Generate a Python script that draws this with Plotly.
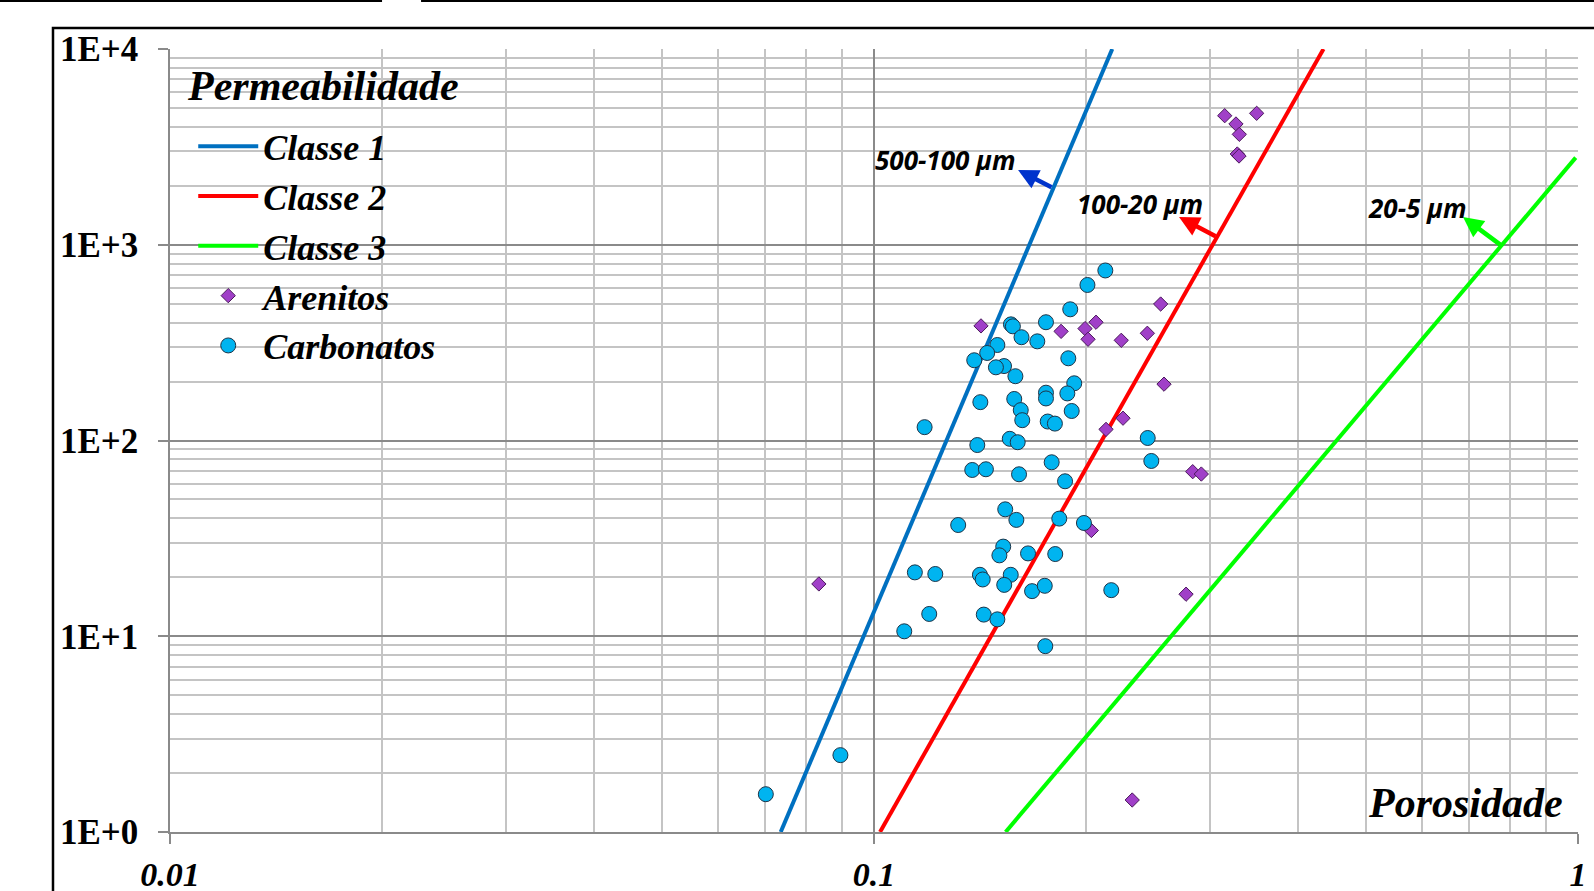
import numpy as np
import plotly.graph_objects as go

# ---------------- data ----------------
classe1_phi = [0.0737, 0.218]
classe1_k = [1, 10000]
classe2_phi = [0.102, 0.435]
classe2_k = [1, 10000]
classe3_phi = [0.1538, 0.9925]
classe3_k = [1, 2786]

arenitos_phi = [0.1419, 0.1844, 0.1994, 0.2067, 0.2014, 0.2245, 0.2445, 0.2554, 0.2582,
                0.2258, 0.2136, 0.2836, 0.2917, 0.2036, 0.2775, 0.0835, 0.2327,
                0.3149, 0.3267, 0.3303, 0.3281, 0.3300, 0.3496]
arenitos_k = [385, 361, 373, 402, 329, 325, 353, 498, 194,
              130, 114, 69.3, 67.4, 34.7, 16.4, 18.5, 1.457,
              4563, 4140, 3665, 2908, 2840, 4693]

carbonatos_phi = [0.2131, 0.201, 0.190, 0.1565, 0.1575, 0.1755, 0.162, 0.1706, 0.1497, 0.1448,
                  0.1388, 0.1888, 0.153, 0.149, 0.1588, 0.1925, 0.1755, 0.1755, 0.1882, 0.1416,
                  0.1582, 0.1616, 0.1624, 0.1909, 0.1765, 0.1807, 0.118, 0.1559, 0.160, 0.1402,
                  0.2448, 0.2477, 0.1788, 0.1379, 0.1442, 0.1607, 0.1868, 0.1536, 0.1593, 0.1317,
                  0.1833, 0.1987, 0.1526, 0.1507, 0.1655, 0.1809, 0.1143, 0.1222, 0.1414, 0.1427,
                  0.1564, 0.1531, 0.1677, 0.1748, 0.2173, 0.1198, 0.1432, 0.1497, 0.1104, 0.1751,
                  0.0896, 0.0702]
carbonatos_k = [739, 623, 468, 392, 383, 402, 337, 321, 307.5, 280,
                257, 263, 240, 236.5, 213, 196, 175.5, 164, 174, 157,
                163, 143, 127, 141.5, 125, 122, 117, 102, 98, 94.8,
                103, 78.6, 77.4, 70.7, 71.3, 67.2, 61.9, 44.5, 39.3, 37.0,
                39.9, 37.9, 28.7, 25.9, 26.5, 26.3, 21.2, 20.8, 20.6, 19.5,
                20.6, 18.3, 17.0, 18.1, 17.2, 13.0, 12.9, 12.2, 10.6, 8.9,
                2.47, 1.56]

# pore-throat class arrows: (tail on line) -> (head)
arrow_labels = ["500-100 \u03bcm", "100-20 \u03bcm", "20-5 \u03bcm"]
arrow_colors = ["#0033CC", "#FF0000", "#00FF00"]
arrow_tail_phi = [0.1796, 0.3071, 0.780]
arrow_tail_k = [1950, 1095, 985]
arrow_head_phi = [0.1602, 0.2712, 0.6865]
arrow_head_k = [2409, 1386, 1386]
label_phi = [0.1596, 0.2953, 0.698]
label_k = [2710, 1615, 1541]

y_tickvals = [1, 10, 100, 1000, 10000]
y_ticktext = ["1E+0", "1E+1", "1E+2", "1E+3", "1E+4"]
x_tickvals = [0.01, 0.1, 1]
x_ticktext = ["0.01", "0.1", "1"]

SERIF = "Liberation Serif"

fig = go.Figure()
fig.add_trace(go.Scatter(x=classe1_phi, y=classe1_k, mode="lines", name="Classe 1",
                         line=dict(color="#0070C0", width=4)))
fig.add_trace(go.Scatter(x=classe2_phi, y=classe2_k, mode="lines", name="Classe 2",
                         line=dict(color="#FF0000", width=4)))
fig.add_trace(go.Scatter(x=classe3_phi, y=classe3_k, mode="lines", name="Classe 3",
                         line=dict(color="#00FF00", width=4)))
fig.add_trace(go.Scatter(x=arenitos_phi, y=arenitos_k, mode="markers", name="Arenitos",
                         marker=dict(symbol="diamond", size=11, color="#A040C8",
                                     line=dict(color="#4B1A5C", width=1))))
fig.add_trace(go.Scatter(x=carbonatos_phi, y=carbonatos_k, mode="markers", name="Carbonatos",
                         marker=dict(symbol="circle", size=15, color="#00B4F0",
                                     line=dict(color="#1E3448", width=1))))

annotations = []
for lab, col, tx, ty, hx, hy, lx, ly in zip(arrow_labels, arrow_colors, arrow_tail_phi, arrow_tail_k,
                                             arrow_head_phi, arrow_head_k, label_phi, label_k):
    annotations.append(dict(x=np.log10(hx), y=np.log10(hy), ax=np.log10(tx), ay=np.log10(ty),
                            xref="x", yref="y", axref="x", ayref="y", text="",
                            showarrow=True, arrowhead=2, arrowsize=0.9, arrowwidth=4.5,
                            arrowcolor=col, standoff=0, startstandoff=0))
    annotations.append(dict(x=np.log10(lx), y=np.log10(ly), xref="x", yref="y", text=lab,
                            showarrow=False, xanchor="right", yanchor="middle",
                            font=dict(family="Open Sans", size=26, color="black",
                                      weight="bold", style="italic")))
annotations.append(dict(x=0.9908, y=0.037, xref="paper", yref="paper", text="Porosidade",
                        showarrow=False, xanchor="right", yanchor="middle",
                        font=dict(family=SERIF, size=42, color="black",
                                  weight="bold", style="italic")))
# legend heading
annotations.append(dict(x=0.0105, y=0.953, xref="paper", yref="paper", text="Permeabilidade",
                        showarrow=False, xanchor="left", yanchor="middle",
                        font=dict(family=SERIF, size=42, color="black",
                                  weight="bold", style="italic")))

minor_x = [m * 10.0 ** e for e in (-2, -1) for m in range(2, 10)]
minor_y = [m * 10.0 ** e for e in (0, 1, 2, 3) for m in range(2, 10)]

major_col = "#8A8A8A"
minor_col = "#C4C4C4"

fig.update_layout(
    width=1594, height=891,
    margin=dict(l=170, r=16, t=49, b=59, autoexpand=False),
    paper_bgcolor="white", plot_bgcolor="white",
    showlegend=True,
    legend=dict(x=0.0165, y=0.914, xanchor="left", yanchor="top",
                bgcolor="rgba(0,0,0,0)", itemwidth=60,
                font=dict(family=SERIF, size=36, color="black", weight="bold", style="italic")),
    annotations=annotations,
    shapes=[
        dict(type="rect", xref="paper", yref="paper", x0=-0.0831, y0=-0.3, x1=1.2, y1=1.0268,
             line=dict(color="black", width=2.5), layer="above"),
        dict(type="line", xref="paper", yref="paper", x0=-0.13, y0=1.0613, x1=0.1506, y1=1.0613,
             line=dict(color="black", width=2)),
        dict(type="line", xref="paper", yref="paper", x0=0.1783, y0=1.0613, x1=1.02, y1=1.0613,
             line=dict(color="black", width=2)),
    ],
)

fig.update_xaxes(type="log", range=[-2, 0], automargin=False,
                 tickvals=x_tickvals, ticktext=x_ticktext,
                 tickfont=dict(family=SERIF, size=34, color="black", weight="bold", style="italic"),
                 ticks="outside", ticklen=10, tickcolor=major_col, tickwidth=1.5,
                 ticklabelstandoff=1,
                 showgrid=True, gridcolor=major_col, gridwidth=1.5,
                 showline=True, linecolor=major_col, linewidth=1.5,
                 minor=dict(tickmode="array", tickvals=minor_x, showgrid=True,
                            gridcolor=minor_col, gridwidth=1.5, ticks=""),
                 zeroline=False)
fig.update_yaxes(type="log", range=[0, 4], automargin=False,
                 tickvals=y_tickvals, ticktext=y_ticktext,
                 tickfont=dict(family=SERIF, size=35, color="black", weight="bold"),
                 ticks="outside", ticklen=10, tickcolor=major_col, tickwidth=1.5,
                 ticklabelstandoff=13,
                 showgrid=True, gridcolor=major_col, gridwidth=1.5,
                 showline=True, linecolor=major_col, linewidth=1.5,
                 minor=dict(tickmode="array", tickvals=minor_y, showgrid=True,
                            gridcolor=minor_col, gridwidth=1.5, ticks=""),
                 zeroline=False)

fig.write_html("out.html", config={"displayModeBar": False},
               post_script="document.body.style.margin='0';document.body.style.overflow='hidden';")
